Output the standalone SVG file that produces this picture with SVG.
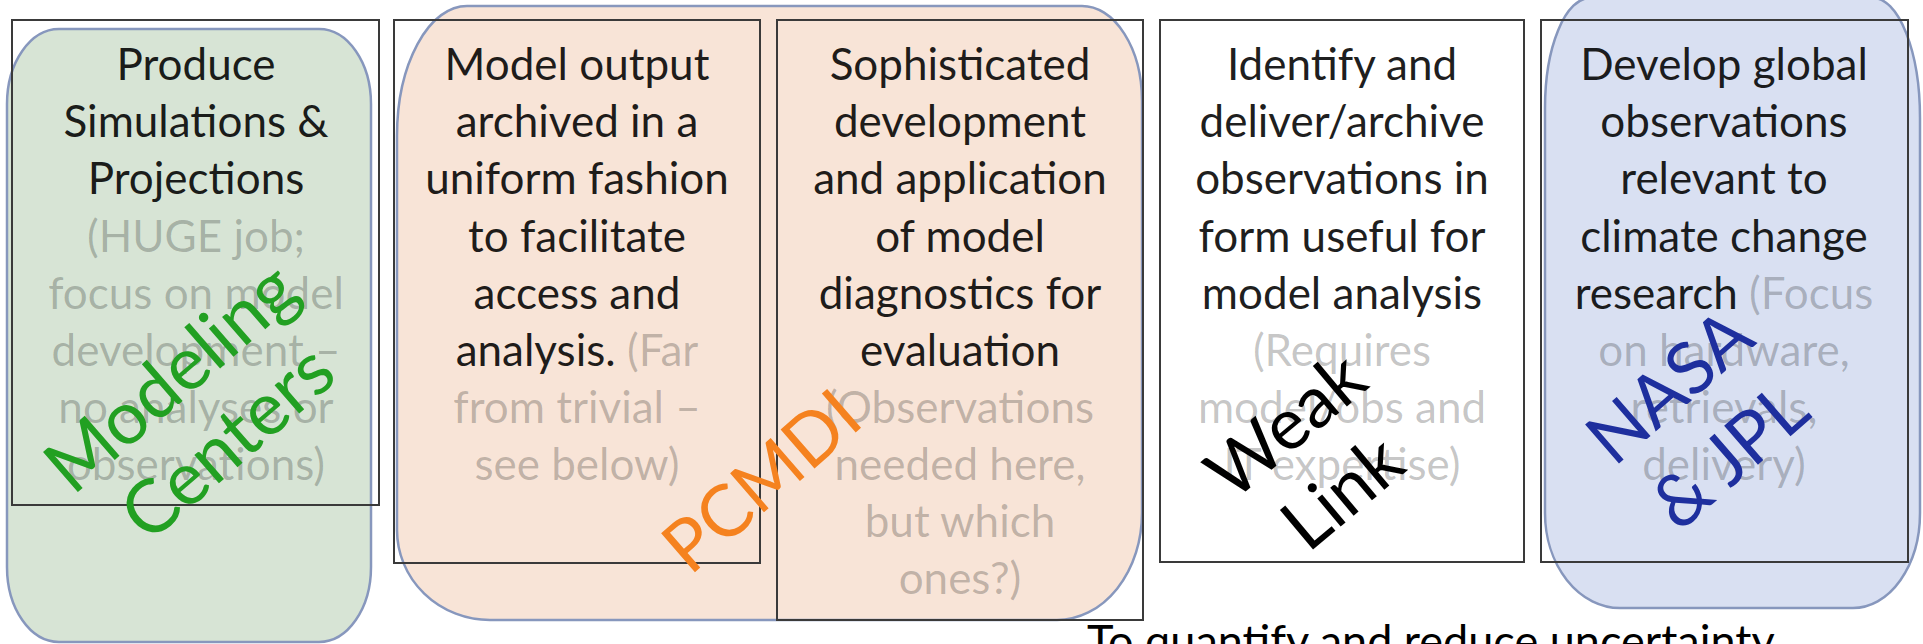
<svg xmlns="http://www.w3.org/2000/svg" width="1923" height="644" viewBox="0 0 1923 644">
  <defs>
    <style>
      .zone { stroke: #8797bd; stroke-width: 2.5; }
      .box { fill: none; stroke: #3a3a3a; stroke-width: 2; }
      .t { font-family: Lato, "Open Sans", "Liberation Sans", sans-serif; font-size: 44px; text-anchor: middle; fill: #000; fill-opacity: 0.88; }
      .g { fill-opacity: 0.23; }
      .big { font-family: Lato, "Open Sans", "Liberation Sans", sans-serif; text-anchor: middle; }
    </style>
  </defs>

  <rect width="1923" height="644" fill="#ffffff"/>

  <!-- shaded organisation zones -->
  <g id="zones">
    <rect id="zone-modeling" class="zone" x="7" y="29" width="364" height="613" rx="52" ry="75" fill="#d7e4d5"/>
    <path id="zone-pcmdi" class="zone" fill="#f8e4d7"
          d="M467,6 H1082 A60 95 0 0 1 1142,101 V513 A85 107 0 0 1 1057,620 H490 A93 90 0 0 1 397,530 V136 A70 130 0 0 1 467,6 Z"/>
    <path id="zone-nasa" class="zone" fill="#d9e0f2"
          d="M1590,-2 H1873 A47 120 0 0 1 1920,118 V513 A67 95 0 0 1 1853,608 H1620 A75 95 0 0 1 1545,513 V108 A45 110 0 0 1 1590,-2 Z"/>
  </g>

  <!-- task boxes -->
  <g id="box-simulations">
    <rect class="box" x="12" y="20" width="367" height="485"/>
    <text class="t" x="196" y="80">Produce</text>
    <text class="t" x="196" y="137">Simulations &amp;</text>
    <text class="t" x="196" y="194">Projections</text>
    <text class="t g" x="196" y="252">(HUGE job;</text>
    <text class="t g" x="196" y="309">focus on model</text>
    <text class="t g" x="196" y="366">development –</text>
    <text class="t g" x="196" y="423">no analyses or</text>
    <text class="t g" x="196" y="480">observations)</text>
  </g>

  <g id="box-archive">
    <rect class="box" x="394" y="20" width="366" height="543"/>
    <text class="t" x="577" y="80">Model output</text>
    <text class="t" x="577" y="137">archived in a</text>
    <text class="t" x="577" y="194">uniform fashion</text>
    <text class="t" x="577" y="252">to facilitate</text>
    <text class="t" x="577" y="309">access and</text>
    <text class="t" x="577" y="366">analysis. <tspan class="g">(Far</tspan></text>
    <text class="t g" x="577" y="423">from trivial –</text>
    <text class="t g" x="577" y="480">see below)</text>
  </g>

  <g id="box-diagnostics">
    <rect class="box" x="777" y="20" width="366" height="600"/>
    <text class="t" x="960" y="80">Sophisticated</text>
    <text class="t" x="960" y="137">development</text>
    <text class="t" x="960" y="194">and application</text>
    <text class="t" x="960" y="252">of model</text>
    <text class="t" x="960" y="309">diagnostics for</text>
    <text class="t" x="960" y="366">evaluation</text>
    <text class="t g" x="960" y="423">(Observations</text>
    <text class="t g" x="960" y="480">needed here,</text>
    <text class="t g" x="960" y="537">but which</text>
    <text class="t g" x="960" y="594">ones?)</text>
  </g>

  <g id="box-observations">
    <rect class="box" x="1160" y="20" width="364" height="542" stroke="#000"/>
    <text class="t" x="1342" y="80">Identify and</text>
    <text class="t" x="1342" y="137">deliver/archive</text>
    <text class="t" x="1342" y="194">observations in</text>
    <text class="t" x="1342" y="252">form useful for</text>
    <text class="t" x="1342" y="309">model analysis</text>
    <text class="t g" x="1342" y="366">(Requires</text>
    <text class="t g" x="1342" y="423">model/obs and</text>
    <text class="t g" x="1342" y="480">IT expertise)</text>
  </g>

  <g id="box-global-obs">
    <rect class="box" x="1541" y="20" width="367" height="542"/>
    <text class="t" x="1724" y="80">Develop global</text>
    <text class="t" x="1724" y="137">observations</text>
    <text class="t" x="1724" y="194">relevant to</text>
    <text class="t" x="1724" y="252">climate change</text>
    <text class="t" x="1724" y="309">research <tspan class="g">(Focus</tspan></text>
    <text class="t g" x="1724" y="366">on hardware,</text>
    <text class="t g" x="1724" y="423">retrievals,</text>
    <text class="t g" x="1724" y="480">delivery)</text>
  </g>

  <!-- slanted organisation labels -->
  <g id="label-modeling" transform="translate(216,429) rotate(-41)">
    <text class="big" x="0" y="-43" font-size="74" fill="#22a022">Modeling</text>
    <text class="big" x="0" y="43" font-size="74" fill="#22a022">Centers</text>
  </g>
  <g id="label-pcmdi" transform="translate(778,500) rotate(-41)">
    <text class="big" x="0" y="0" font-size="72" fill="#f5821f">PCMDI</text>
  </g>
  <g id="label-weak" transform="translate(1330,478) rotate(-40)">
    <text class="big" x="0" y="-44" font-size="72" fill="#000">Weak</text>
    <text class="big" x="0" y="44" font-size="72" fill="#000">Link</text>
  </g>
  <g id="label-nasa" transform="translate(1716,440) rotate(-41)">
    <text class="big" x="0" y="-46" font-size="72" fill="#1e2f9e">NASA</text>
    <text class="big" x="0" y="46" font-size="72" fill="#1e2f9e">&amp; JPL</text>
  </g>

  <!-- connectors: none in this figure -->
  <g id="connectors"/>

  <!-- caption running off the lower edge -->
  <text id="caption" x="1087" y="657" font-family="Lato, 'Open Sans', 'Liberation Sans', sans-serif" font-size="45" fill="#000">To quantify and reduce uncertainty</text>
</svg>
